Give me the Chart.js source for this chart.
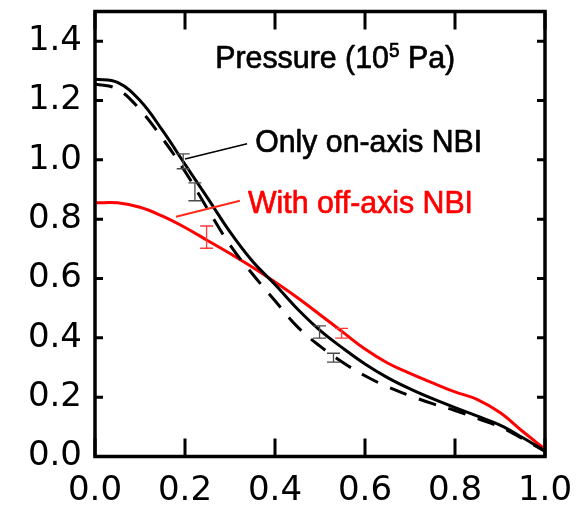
<!DOCTYPE html>
<html>
<head>
<meta charset="utf-8">
<script src="https://cdn.jsdelivr.net/npm/chart.js@4.4.1/dist/chart.umd.min.js"></script>
<style>
  html, body { margin: 0; padding: 0; background: #fff; }
  #wrap { width: 587px; height: 511px; }
</style>
</head>
<body>
<div id="wrap"><canvas id="c" width="587" height="511"></canvas></div>
<script>
// Normalised radius grid shared by all profiles
const rho = [0, 0.05, 0.1, 0.15, 0.2, 0.25, 0.3, 0.35, 0.4, 0.45, 0.5,
             0.55, 0.6, 0.65, 0.7, 0.75, 0.8, 0.85, 0.9, 0.95, 1.0];

// Pressure profiles (10^5 Pa)
const pOnAxis = [1.272, 1.261, 1.200, 1.099, 0.985, 0.872, 0.757, 0.658, 0.580, 0.497, 0.425,
                 0.366, 0.312, 0.266, 0.228, 0.195, 0.165, 0.136, 0.106, 0.064, 0.018];
const pOnAxisDashed = [1.256, 1.238, 1.169, 1.072, 0.961, 0.835, 0.713, 0.615, 0.525, 0.437, 0.372,
                       0.318, 0.272, 0.235, 0.205, 0.178, 0.155, 0.128, 0.100, 0.060, 0.018];
const pOffAxis = [0.855, 0.855, 0.840, 0.810, 0.772, 0.728, 0.684, 0.638, 0.588, 0.535, 0.478,
                  0.420, 0.362, 0.315, 0.280, 0.248, 0.218, 0.192, 0.148, 0.085, 0.025];

// Measurement error bars
const errOnX  = [0.196, 0.222, 0.499, 0.530];
const errOnLo = [0.970, 0.862, 0.399, 0.318];
const errOnHi = [1.020, 0.922, 0.440, 0.348];
const errOffX  = [0.248, 0.548];
const errOffLo = [0.702, 0.399];
const errOffHi = [0.777, 0.432];

// Axis ticks
const xTicks = [0, 0.2, 0.4, 0.6, 0.8, 1.0];
const yTicks = [0, 0.2, 0.4, 0.6, 0.8, 1.0, 1.2, 1.4];

const FONT = '"Liberation Sans", Arial, Helvetica, sans-serif';
const TICK_FONT = '"DejaVu Sans", "Liberation Sans", sans-serif';

const toXY = (ys) => rho.map((x, i) => ({ x: x, y: ys[i] }));

// Labels and pointer lines placed in data coordinates
const labels = [
  { parts: [['Pressure (10', 32, 0], ['5', 20, -11], [' Pa)', 32, 0]], x: 0.267, y: 1.308, width: 240, color: '#000' },
  { parts: [['Only on-axis NBI', 32, 0]], x: 0.356, y: 1.028, width: 227, color: '#000' },
  { parts: [['With off-axis NBI', 32, 0]], x: 0.340, y: 0.822, width: 225, color: '#ff0000' }
];
const pointers = [
  { x1: 0.200, y1: 1.003, x2: 0.338, y2: 1.054, color: '#000', w: 1.5 },
  { x1: 0.180, y1: 0.808, x2: 0.322, y2: 0.862, color: '#ff2a1a', w: 2 }
];

const framePlugin = {
  id: 'frame',
  afterDatasetsDraw(chart) {
    const ctx = chart.ctx;
    const xs = chart.scales.x, ys = chart.scales.y;
    const a = chart.chartArea;
    ctx.save();

    // error bars
    const drawErr = (xv, lo, hi, color) => {
      ctx.strokeStyle = color;
      ctx.lineWidth = 1.3;
      xv.forEach((x, i) => {
        const px = xs.getPixelForValue(x);
        const p1 = ys.getPixelForValue(lo[i]);
        const p2 = ys.getPixelForValue(hi[i]);
        ctx.beginPath();
        ctx.moveTo(px, p1); ctx.lineTo(px, p2);
        ctx.moveTo(px - 6.5, p1); ctx.lineTo(px + 6.5, p1);
        ctx.moveTo(px - 6.5, p2); ctx.lineTo(px + 6.5, p2);
        ctx.stroke();
      });
    };
    drawErr(errOnX, errOnLo, errOnHi, '#4a4a4a');
    drawErr(errOffX, errOffLo, errOffHi, '#ff3a3a');

    // pointer lines
    pointers.forEach(p => {
      ctx.strokeStyle = p.color;
      ctx.lineWidth = p.w;
      ctx.beginPath();
      ctx.moveTo(xs.getPixelForValue(p.x1), ys.getPixelForValue(p.y1));
      ctx.lineTo(xs.getPixelForValue(p.x2), ys.getPixelForValue(p.y2));
      ctx.stroke();
    });

    // text labels, slightly condensed and heavy
    ctx.textBaseline = 'alphabetic';
    ctx.textAlign = 'left';
    labels.forEach(l => {
      let total = 0;
      l.parts.forEach(([t, s]) => { ctx.font = s + 'px ' + FONT; total += ctx.measureText(t).width; });
      const sx = l.width / total;
      const px = xs.getPixelForValue(l.x), py = ys.getPixelForValue(l.y);
      ctx.save();
      ctx.translate(px, py);
      ctx.scale(sx, 1);
      ctx.fillStyle = l.color;
      ctx.strokeStyle = l.color;
      ctx.lineWidth = 0.7;
      ctx.lineJoin = 'round';
      let cx = 0;
      l.parts.forEach(([t, s, dy]) => {
        ctx.font = s + 'px ' + FONT;
        ctx.fillText(t, cx, dy);
        ctx.strokeText(t, cx, dy);
        cx += ctx.measureText(t).width;
      });
      ctx.restore();
    });

    // frame
    ctx.strokeStyle = '#000';
    ctx.lineWidth = 3.5;
    ctx.lineCap = 'butt';
    ctx.strokeRect(a.left, a.top, a.right - a.left, a.bottom - a.top);

    // inward tick marks on all four sides
    ctx.lineWidth = 3;
    ctx.beginPath();
    xs.ticks.forEach(t => {
      const px = xs.getPixelForValue(t.value);
      ctx.moveTo(px, a.bottom); ctx.lineTo(px, a.bottom - 18);
      ctx.moveTo(px, a.top); ctx.lineTo(px, a.top + 18);
    });
    ys.ticks.forEach(t => {
      const py = ys.getPixelForValue(t.value);
      ctx.moveTo(a.left, py); ctx.lineTo(a.left + 8, py);
      ctx.moveTo(a.right, py); ctx.lineTo(a.right - 8, py);
    });
    ctx.stroke();
    ctx.restore();
  }
};

new Chart(document.getElementById('c'), {
  type: 'scatter',
  data: {
    datasets: [
      { label: 'Only on-axis NBI', data: toXY(pOnAxis), showLine: true, borderColor: '#000',
        borderWidth: 3, pointRadius: 0, tension: 0.4 },
      { label: 'Only on-axis NBI (dashed)', data: toXY(pOnAxisDashed), showLine: true, borderColor: '#000',
        borderWidth: 3, borderDash: [18, 13], pointRadius: 0, tension: 0.4 },
      { label: 'With off-axis NBI', data: toXY(pOffAxis), showLine: true, borderColor: '#ff0000',
        borderWidth: 3, pointRadius: 0, tension: 0.4 }
    ]
  },
  options: {
    responsive: false,
    animation: false,
    devicePixelRatio: 1,
    layout: { padding: { left: 0, top: 11.5, right: 42, bottom: 0 } },
    plugins: { legend: { display: false }, tooltip: { enabled: false }, title: { display: false } },
    scales: {
      x: {
        type: 'linear', min: 0, max: 1,
        afterBuildTicks: (s) => { s.ticks = xTicks.map(v => ({ value: v })); },
        afterFit: (s) => { s.height = 54.5; s.paddingLeft = 0; s.paddingRight = 0; },
        grid: { display: false, drawTicks: false },
        border: { display: false },
        ticks: { color: '#000', padding: 14, maxRotation: 0,
                 font: { family: TICK_FONT, size: 34 },
                 callback: (v) => Number(v).toFixed(1) }
      },
      y: {
        type: 'linear', min: 0, max: 1.5,
        afterBuildTicks: (s) => { s.ticks = yTicks.map(v => ({ value: v })); },
        afterFit: (s) => { s.width = 95; s.paddingTop = 0; s.paddingBottom = 0; },
        grid: { display: false, drawTicks: false },
        border: { display: false },
        ticks: { color: '#000', padding: 13,
                 font: { family: TICK_FONT, size: 34 },
                 callback: (v) => Number(v).toFixed(1) }
      }
    }
  },
  plugins: [framePlugin]
});
</script>
</body>
</html>
